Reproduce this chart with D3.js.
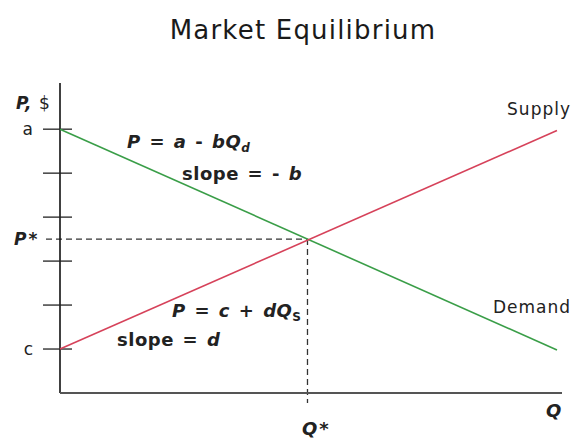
<!DOCTYPE html>
<html>
<head>
<meta charset="utf-8">
<script src="https://cdn.jsdelivr.net/npm/d3@7"></script>
<style>
  body { margin: 0; background: #fff; }
  text { font-family: "DejaVu Sans", Verdana, sans-serif; fill: #222; }
</style>
</head>
<body>
<svg id="chart"></svg>
<script>
var width = 573, height = 438;

// price ticks along the P axis (unit steps), labelled ones
var priceTicks = [1, 2, 3, 4, 5, 6];
var priceLabels = [{ p: 6, label: "a" }, { p: 1, label: "c" }];

// equilibrium
var qStar = 4.93, pStar = 3.5;

// curves: [Q, P]
var demand = [[0, 6], [9.9, 0.98]];
var supply = [[0, 1], [9.9, 5.97]];

var svg = d3.select("#chart")
    .attr("width", width)
    .attr("height", height);

var x = d3.scaleLinear().domain([0, 10]).range([60, 562]);
var y = d3.scaleLinear().domain([0, 7.05]).range([393, 83]);

svg.append("text")
    .attr("x", 303)
    .attr("y", 39)
    .attr("text-anchor", "middle")
    .style("font-size", "26px")
    .style("letter-spacing", "1.2px")
    .style("fill", "#1a1a1a")
    .text("Market Equilibrium");

// dashed guides
svg.append("line")
    .attr("x1", 46).attr("x2", x(qStar))
    .attr("y1", y(pStar)).attr("y2", y(pStar))
    .attr("stroke", "#333").attr("stroke-width", 1.3)
    .attr("stroke-dasharray", "6,4");

svg.append("line")
    .attr("x1", x(qStar)).attr("x2", x(qStar))
    .attr("y1", y(pStar)).attr("y2", 403)
    .attr("stroke", "#333").attr("stroke-width", 1.3)
    .attr("stroke-dasharray", "6,4");

// axes
svg.append("line")
    .attr("x1", x(0)).attr("x2", x(0))
    .attr("y1", y(7.05)).attr("y2", y(0))
    .attr("stroke", "#111").attr("stroke-width", 1.6);

svg.append("line")
    .attr("x1", x(0)).attr("x2", x(10))
    .attr("y1", y(0)).attr("y2", y(0))
    .attr("stroke", "#555").attr("stroke-width", 2);

svg.append("g")
    .selectAll("line")
    .data(priceTicks)
    .enter().append("line")
    .attr("x1", x(0) - 17).attr("x2", x(0) + 12)
    .attr("y1", function(d) { return y(d); })
    .attr("y2", function(d) { return y(d); })
    .attr("stroke", "#222").attr("stroke-width", 1.3);

svg.append("g")
    .selectAll("text")
    .data(priceLabels)
    .enter().append("text")
    .attr("x", 33)
    .attr("y", function(d) { return y(d.p) + 6; })
    .attr("text-anchor", "end")
    .style("font-size", "17px")
    .text(function(d) { return d.label; });

// curves
var line = d3.line()
    .x(function(d) { return x(d[0]); })
    .y(function(d) { return y(d[1]); });

svg.append("path")
    .datum(demand)
    .attr("d", line)
    .attr("fill", "none")
    .attr("stroke", "#3a9e48")
    .attr("stroke-width", 1.6);

svg.append("path")
    .datum(supply)
    .attr("d", line)
    .attr("fill", "none")
    .attr("stroke", "#d6425a")
    .attr("stroke-width", 1.6);

// axis labels
var pLab = svg.append("text").attr("x", 16).attr("y", 109)
    .style("font-size", "17px").style("letter-spacing", "1px");
pLab.append("tspan").style("font-weight", "bold").style("font-style", "italic").text("P,");
pLab.append("tspan").text(" $");

var psLab = svg.append("text").attr("x", 14).attr("y", y(pStar) + 6)
    .style("font-size", "17px").style("letter-spacing", "2px");
psLab.append("tspan").style("font-weight", "bold").style("font-style", "italic").text("P");
psLab.append("tspan").style("font-weight", "bold").text("*");

svg.append("text")
    .attr("x", 546).attr("y", 417)
    .style("font-size", "18px").style("font-weight", "bold").style("font-style", "italic")
    .text("Q");

var qsLab = svg.append("text").attr("x", 302).attr("y", 435)
    .style("font-size", "18px").style("letter-spacing", "2px");
qsLab.append("tspan").style("font-weight", "bold").style("font-style", "italic").text("Q");
qsLab.append("tspan").style("font-weight", "bold").text("*");

svg.append("text")
    .attr("x", 571).attr("y", 115)
    .attr("text-anchor", "end")
    .style("font-size", "17px").style("letter-spacing", "1px")
    .text("Supply");

svg.append("text")
    .attr("x", 571).attr("y", 313)
    .attr("text-anchor", "end")
    .style("font-size", "17px").style("letter-spacing", "1px")
    .text("Demand");

// equations
function eq(xp, yp, parts) {
    var t = svg.append("text").attr("x", xp).attr("y", yp)
        .style("font-size", "18px").style("font-weight", "bold")
        .style("letter-spacing", "0.5px").style("word-spacing", "2px");
    parts.forEach(function(p) {
        var s = t.append("tspan").text(p.t);
        if (p.i) s.style("font-style", "italic");
        if (p.sub) s.attr("dy", 4).style("font-size", "12px");
    });
}

eq(127, 148, [{ t: "P", i: 1 }, { t: " = " }, { t: "a", i: 1 }, { t: " - " }, { t: "bQ", i: 1 }, { t: "d", i: 1, sub: 1 }]);
eq(182, 180, [{ t: "slope = - " }, { t: "b", i: 1 }]);
eq(172, 317, [{ t: "P", i: 1 }, { t: " = " }, { t: "c", i: 1 }, { t: " + " }, { t: "dQ", i: 1 }, { t: "S", sub: 1 }]);
eq(117, 346, [{ t: "slope = " }, { t: "d", i: 1 }]);
</script>
</body>
</html>
